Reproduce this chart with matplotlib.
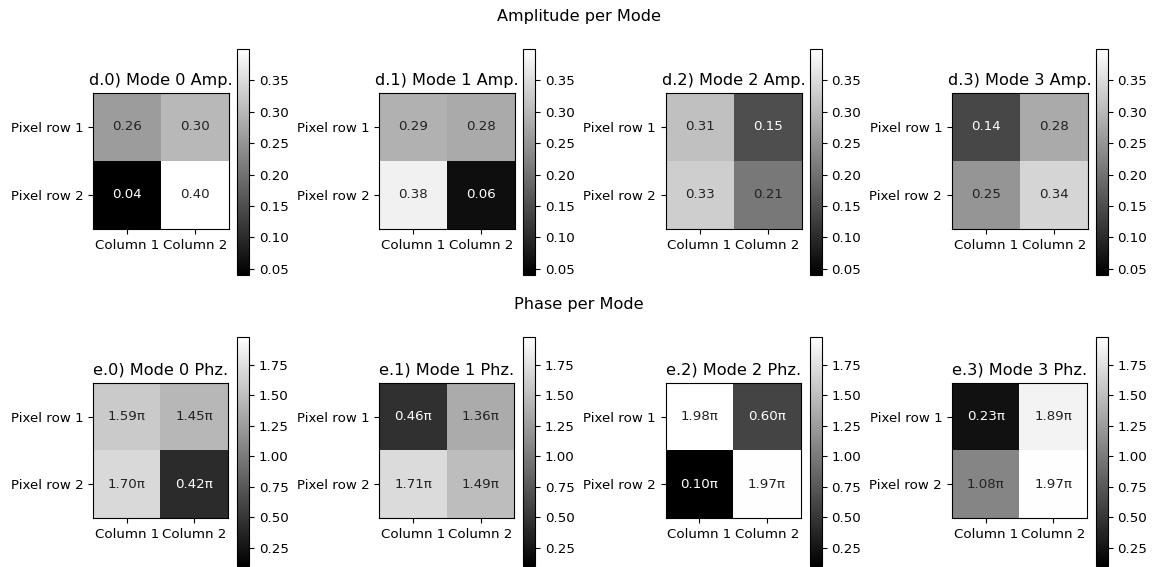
import numpy as np
import matplotlib
matplotlib.use("Agg")
import matplotlib.pyplot as plt

# Per-mode amplitude and phase (phase in units of pi) on a 2x2 pixel grid
modes = [0, 1, 2, 3]
row_labels = ["Pixel row 1", "Pixel row 2"]
col_labels = ["Column 1", "Column 2"]

amp_mode0 = [[0.26, 0.30], [0.04, 0.40]]
amp_mode1 = [[0.29, 0.28], [0.38, 0.06]]
amp_mode2 = [[0.31, 0.15], [0.33, 0.21]]
amp_mode3 = [[0.14, 0.28], [0.25, 0.34]]

phase_mode0 = [[1.59, 1.45], [1.70, 0.42]]
phase_mode1 = [[0.46, 1.36], [1.71, 1.49]]
phase_mode2 = [[1.98, 0.60], [0.10, 1.97]]
phase_mode3 = [[0.23, 1.89], [1.08, 1.97]]

amp_ticks = [0.05, 0.10, 0.15, 0.20, 0.25, 0.30, 0.35]
phase_ticks = [0.25, 0.50, 0.75, 1.00, 1.25, 1.50, 1.75]

amps = [np.array(a) for a in (amp_mode0, amp_mode1, amp_mode2, amp_mode3)]
phases = [np.array(p) for p in (phase_mode0, phase_mode1, phase_mode2, phase_mode3)]

plt.rcParams["font.size"] = 9.65
plt.rcParams["axes.titlesize"] = 11.6

W, H = 1158, 567
fig = plt.figure(figsize=(W / 100, H / 100), dpi=100)


def frac_box(x, y_top, w, h):
    return [x / W, (H - y_top - h) / H, w / W, h / H]


def draw_row(data, prefix, kind, fmt, ticks, img_top, img_size, cb_top, cb_h):
    vmin = min(d.min() for d in data)
    vmax = max(d.max() for d in data)
    step = 286.3
    for i, (m, d) in enumerate(zip(modes, data)):
        ax = fig.add_axes(frac_box(93 + i * step, img_top, img_size, img_size))
        im = ax.imshow(d, cmap="gray", vmin=vmin, vmax=vmax)
        ax.set_xticks(range(len(col_labels)), col_labels)
        ax.set_yticks(range(len(row_labels)), row_labels)
        ax.set_title(f"{prefix}.{m}) Mode {m} {kind}")
        for r in range(d.shape[0]):
            for c in range(d.shape[1]):
                t = (d[r, c] - vmin) / (vmax - vmin)
                ax.text(c, r, fmt.format(d[r, c]), ha="center", va="center",
                        color="white" if t < 0.4 else "#222222")
        cax = fig.add_axes(frac_box(237 + i * step, cb_top, 12, cb_h))
        cb = fig.colorbar(im, cax=cax)
        cb.set_ticks(ticks)
        cb.set_ticklabels([f"{v:.2f}" for v in ticks])


draw_row(amps, "d", "Amp.", "{:.2f}", amp_ticks, 93, 136, 49, 226)
draw_row(phases, "e", "Phz.", "{:.2f}\u03c0", phase_ticks, 383, 135, 337, 229)

fig.text(0.5, 1 - 17 / H, "Amplitude per Mode", ha="center", va="center", fontsize=11.6)
fig.text(0.5, 1 - 305 / H, "Phase per Mode", ha="center", va="center", fontsize=11.6)

fig.savefig("out.png", dpi=100)
